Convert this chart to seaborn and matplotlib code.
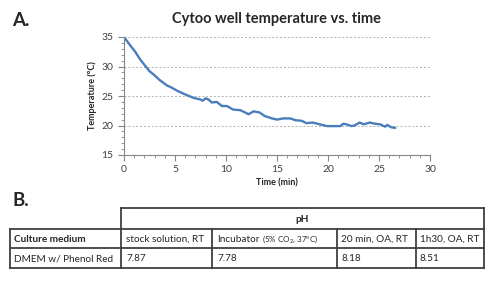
import matplotlib
matplotlib.use("Agg")
import matplotlib.pyplot as plt
import seaborn as sns
from matplotlib.ticker import MultipleLocator
from matplotlib.lines import Line2D

# data
time_min = [0, 0.3, 0.6, 1.1, 1.5, 1.9, 2.5, 3.0, 3.5, 4.2, 4.7, 5.2, 5.7, 6.1, 6.8,
            7.5, 7.7, 8.0, 8.3, 8.6, 9.1, 9.6, 10.1, 10.7, 11.4, 12.0, 12.2, 12.7,
            13.3, 13.8, 14.5, 15.0, 15.6, 16.3, 16.8, 17.4, 17.9, 18.5, 19.2, 19.9,
            20.5, 21.2, 21.5, 21.8, 22.3, 22.6, 23.1, 23.5, 24.1, 24.6, 25.1, 25.6,
            25.8, 26.2, 26.6]
temp_c = [35.0, 34.3, 33.6, 32.5, 31.4, 30.5, 29.2, 28.5, 27.7, 26.8, 26.4, 25.9,
          25.5, 25.2, 24.7, 24.4, 24.2, 24.6, 24.4, 23.9, 24.0, 23.3, 23.3, 22.7,
          22.6, 22.1, 21.9, 22.4, 22.2, 21.6, 21.2, 21.0, 21.2, 21.2, 20.9, 20.8,
          20.4, 20.5, 20.2, 19.9, 19.9, 19.9, 20.3, 20.2, 19.9, 20.0, 20.5, 20.2,
          20.5, 20.3, 20.2, 19.8, 20.1, 19.7, 19.6]

header_row = ["Culture medium", "stock solution, RT", "Incubator", "20 min, OA, RT", "1h30, OA, RT"]
incubator_note = "(5% CO$_2$, 37°C)"
medium = "DMEM w/ Phenol Red"
ph_values = ["7.87", "7.78", "8.18", "8.51"]

sns.set_style("white")
plt.rcParams["font.family"] = ["Lato", "DejaVu Sans"]
plt.rcParams["mathtext.fontset"] = "custom"
plt.rcParams["mathtext.rm"] = "Lato"

W, H = 495, 293
fig = plt.figure(figsize=(W / 100, H / 100), dpi=100)

# --- panel A: line chart ---
ax = fig.add_axes([124 / W, 1 - 155 / H, 306 / W, 118 / H])
sns.lineplot(x=time_min, y=temp_c, ax=ax, color="#4A7EBB", linewidth=1.7)
ax.set_xlim(0, 30)
ax.set_ylim(15, 35)
ax.xaxis.set_major_locator(MultipleLocator(5))
ax.xaxis.set_minor_locator(MultipleLocator(1))
ax.yaxis.set_major_locator(MultipleLocator(5))
ax.yaxis.set_minor_locator(MultipleLocator(1))
ax.tick_params(which="both", direction="out", colors="#868686", labelcolor="#404040",
               labelsize=7.5, bottom=True, left=True)
ax.tick_params(which="major", length=4)
ax.tick_params(which="minor", length=2.5)
for ypos in [20, 25, 30, 35]:
    ax.axhline(ypos, color="#b0b0b0", linestyle=(0, (2, 2)), linewidth=0.7, zorder=0)
for side in ["top", "right"]:
    ax.spines[side].set_visible(False)
for side in ["left", "bottom"]:
    ax.spines[side].set_color("#868686")
    ax.spines[side].set_linewidth(0.8)
ax.set_xlabel("Time (min)", fontsize=6.5, fontweight="bold", labelpad=3)
ax.set_ylabel("Temperature (°C)", fontsize=6.5, fontweight="bold", labelpad=3)
ax.set_title("Cytoo well temperature vs. time", fontsize=10.5, fontweight="bold", pad=10)

fig.text(12 / W, 1 - 21 / H, "A.", fontsize=13.5, fontweight="bold", va="center")
fig.text(12 / W, 1 - 200 / H, "B.", fontsize=13.5, fontweight="bold", va="center")

# --- panel B: table ---
tab = fig.add_axes([0, 0, 1, 1])
tab.set_xlim(0, W)
tab.set_ylim(H, 0)
tab.axis("off")
lc = "#404040"
lw = 1.3
segs = [
    ((121, 484), (208, 208)),
    ((10, 484), (229, 229)),
    ((10, 484), (248, 248)),
    ((10, 484), (268, 268)),
    ((10, 10), (229, 268)),
    ((121, 121), (208, 268)),
    ((212, 212), (229, 268)),
    ((337, 337), (229, 268)),
    ((416, 416), (229, 268)),
    ((484, 484), (208, 268)),
]
for xs, ys in segs:
    tab.add_line(Line2D(xs, ys, color=lc, linewidth=lw, solid_capstyle="projecting"))

fs = 7.2
tab.text((121 + 484) / 2, 219, "pH", fontsize=fs, fontweight="bold", ha="center", va="center")
col_x = [14, 126, 217, 341, 420]
for i, (x, lab) in enumerate(zip(col_x, header_row)):
    t = tab.text(x, 239, lab, fontsize=fs, va="center",
                 fontweight="bold" if i == 0 else "normal")
    if lab == "Incubator":
        tab.annotate(" " + incubator_note, xy=(1, 0.5), xycoords=t, va="center",
                     fontsize=5.8)
row2 = [medium] + ph_values
for x, lab in zip(col_x, row2):
    tab.text(x, 258.5, lab, fontsize=fs, va="center")

fig.savefig("out.png", dpi=100)
